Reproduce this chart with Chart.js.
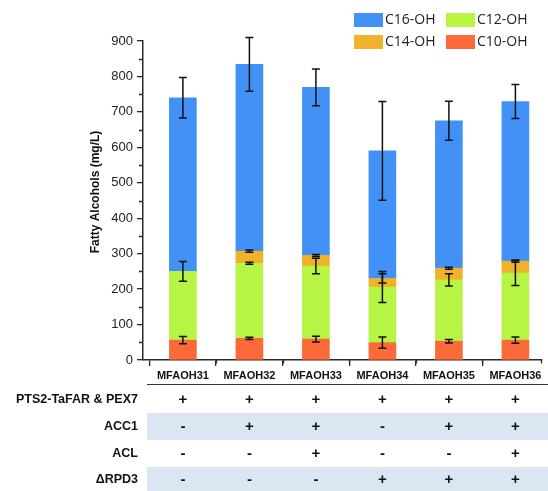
<!DOCTYPE html>
<html>
<head>
<meta charset="utf-8">
<script src="https://cdn.jsdelivr.net/npm/chart.js@4/dist/chart.umd.min.js"></script>
<style>
  html, body { margin: 0; padding: 0; background: #fff; }
  #wrap { width: 548px; height: 491px; position: relative; }
</style>
</head>
<body>
<div id="wrap"><canvas id="c" width="548" height="491"></canvas></div>
<script>
// Strains
const categories = ['MFAOH31', 'MFAOH32', 'MFAOH33', 'MFAOH34', 'MFAOH35', 'MFAOH36'];

// Fatty alcohol titres per chain length (mg/L)
const c10 = [56, 61, 59, 49, 53, 56];
const c12 = [194, 212, 206, 157, 173, 189];
const c14 = [0, 34, 30, 24, 33, 34];
const c16 = [490, 527, 474, 360, 416, 450];

// Standard deviations
const c10Err = [10, 3, 8, 16, 5, 9];
const c12Err = [28, 3, 22, 44, 17, 35];
const c14Err = [0, 3, 3, 13, 3, 3];
const c16Err = [57, 76, 52, 139, 55, 48];

// Genotype table under the plot
const rowLabels = ['PTS2-TaFAR & PEX7', 'ACC1', 'ACL', '\u0394RPD3'];
const pts2Row = ['+', '+', '+', '+', '+', '+'];
const acc1Row = ['-', '+', '+', '-', '+', '+'];
const aclRow  = ['-', '-', '+', '-', '-', '+'];
const rpd3Row = ['-', '-', '-', '+', '+', '+'];

const yTicksMax = 900;
const yTickStep = 100;
const yMinorStep = 50;

const FONT = '"Liberation Sans", Arial, Helvetica, sans-serif';
const AXIS_COLOR = '#2b2b2b';

const series = [
  { label: 'C10-OH', data: c10, err: c10Err, color: '#fd6a3a' },
  { label: 'C12-OH', data: c12, err: c12Err, color: '#b7f443' },
  { label: 'C14-OH', data: c14, err: c14Err, color: '#f0b22a' },
  { label: 'C16-OH', data: c16, err: c16Err, color: '#4291f7' }
];

const tableRows = [pts2Row, acc1Row, aclRow, rpd3Row];

// Error bars at the top of each stacked segment
const errorBars = {
  id: 'errorBars',
  afterDatasetsDraw(chart) {
    const ctx = chart.ctx;
    const ys = chart.scales.y;
    ctx.save();
    ctx.strokeStyle = '#111';
    ctx.lineWidth = 1.5;
    chart.data.datasets.forEach((ds, d) => {
      const meta = chart.getDatasetMeta(d);
      meta.data.forEach((bar, i) => {
        const e = ds.errors[i];
        if (!e) return;
        let cum = 0;
        for (let k = 0; k <= d; k++) cum += chart.data.datasets[k].data[i].y;
        const yTop = ys.getPixelForValue(cum + e);
        const yBot = ys.getPixelForValue(cum - e);
        const x = bar.x;
        ctx.beginPath();
        ctx.moveTo(x, yTop); ctx.lineTo(x, yBot);
        ctx.moveTo(x - 4, yTop); ctx.lineTo(x + 4, yTop);
        ctx.moveTo(x - 4, yBot); ctx.lineTo(x + 4, yBot);
        ctx.stroke();
      });
    });
    ctx.restore();
  }
};

// Legend (2 x 2), axis title, minor ticks and the genotype table
const decorations = {
  id: 'decorations',
  afterDraw(chart) {
    const ctx = chart.ctx;
    const xs = chart.scales.x;
    const ys = chart.scales.y;
    const area = chart.chartArea;
    ctx.save();

    // legend
    const legendOrder = [
      { s: 3, x: 354, y: 13 }, { s: 1, x: 446, y: 13 },
      { s: 2, x: 354, y: 35 }, { s: 0, x: 446, y: 35 }
    ];
    ctx.font = '14px "Open Sans", "Noto Sans", sans-serif';
    ctx.textBaseline = 'middle';
    ctx.textAlign = 'left';
    legendOrder.forEach(l => {
      const s = series[l.s];
      ctx.fillStyle = s.color;
      ctx.fillRect(l.x, l.y, 29, 14);
      ctx.fillStyle = '#222';
      ctx.fillText(s.label, l.x + 31, l.y + 7.5);
    });

    // y axis title
    ctx.save();
    ctx.translate(96, 192);
    ctx.rotate(-Math.PI / 2);
    ctx.font = 'bold 12px ' + FONT;
    ctx.textAlign = 'center';
    ctx.textBaseline = 'middle';
    ctx.fillStyle = '#111';
    ctx.fillText('Fatty Alcohols (mg/L)', 0, 0);
    ctx.restore();

    ctx.strokeStyle = AXIS_COLOR;
    ctx.lineWidth = 1.3;
    ctx.beginPath();
    // minor y ticks
    for (let v = yMinorStep; v < yTicksMax; v += yTickStep) {
      const y = Math.round(ys.getPixelForValue(v)) + 0.5;
      ctx.moveTo(area.left - 4, y); ctx.lineTo(area.left, y);
    }
    // short ticks between strains
    for (let i = 0; i < categories.length - 1; i++) {
      const x = Math.round(xs.getPixelForValue(i + 0.5)) + 0.5;
      ctx.moveTo(x, area.bottom); ctx.lineTo(x, area.bottom + 3.5);
    }
    ctx.moveTo(area.right - 0.5, area.bottom); ctx.lineTo(area.right - 0.5, area.bottom + 3.5);
    ctx.stroke();

    // table
    const rowY = [400, 427, 454, 480];
    const bands = [[413, 440], [467, 491]];
    ctx.fillStyle = '#dce6f2';
    bands.forEach(b => ctx.fillRect(147, b[0], 548 - 147, b[1] - b[0]));

    ctx.strokeStyle = '#333';
    ctx.lineWidth = 1.2;
    ctx.beginPath();
    ctx.moveTo(147, 384.5); ctx.lineTo(548, 384.5);
    ctx.stroke();

    ctx.fillStyle = '#111';
    ctx.textBaseline = 'middle';
    ctx.font = 'bold 12.5px ' + FONT;
    ctx.textAlign = 'right';
    rowLabels.forEach((t, r) => ctx.fillText(t, 138, rowY[r]));

    ctx.font = 'bold 15px ' + FONT;
    ctx.textAlign = 'center';
    tableRows.forEach((row, r) => {
      row.forEach((sym, i) => {
        ctx.fillText(sym, xs.getPixelForValue(i), rowY[r]);
      });
    });
    ctx.restore();
  }
};

new Chart(document.getElementById('c'), {
  type: 'bar',
  data: {
    datasets: series.map(s => ({
      label: s.label,
      data: s.data.map((v, i) => ({ x: i, y: v })),
      errors: s.err,
      backgroundColor: s.color,
      borderWidth: 0,
      barThickness: 27
    }))
  },
  options: {
    responsive: false,
    animation: false,
    events: [],
    layout: { padding: { left: 0, top: 41, right: 6, bottom: 0 } },
    plugins: {
      legend: { display: false },
      tooltip: { enabled: false }
    },
    scales: {
      x: {
        type: 'linear',
        stacked: true,
        offset: false,
        min: -0.6,
        max: 5.4,
        afterBuildTicks: (scale) => { scale.ticks = categories.map((c, i) => ({ value: i })); },
        afterFit: (scale) => { scale.height = 131; },
        ticks: {
          autoSkip: false,
          maxRotation: 0,
          padding: 3,
          color: '#111',
          font: { family: FONT, size: 11, weight: 'bold' },
          callback: (v) => categories[v]
        },
        grid: { drawOnChartArea: false, drawTicks: true, tickLength: 6, color: AXIS_COLOR, lineWidth: 1.3 },
        border: { display: true, color: AXIS_COLOR, width: 1.5 }
      },
      y: {
        stacked: true,
        min: 0,
        max: yTicksMax,
        afterFit: (scale) => { scale.width = 143; },
        ticks: {
          stepSize: yTickStep,
          autoSkip: false,
          padding: 4,
          color: '#222',
          font: { family: FONT, size: 13 }
        },
        grid: { drawOnChartArea: false, drawTicks: true, tickLength: 6, color: AXIS_COLOR, lineWidth: 1.3 },
        border: { display: true, color: AXIS_COLOR, width: 1.5 }
      }
    }
  },
  plugins: [errorBars, decorations]
});
</script>
</body>
</html>
